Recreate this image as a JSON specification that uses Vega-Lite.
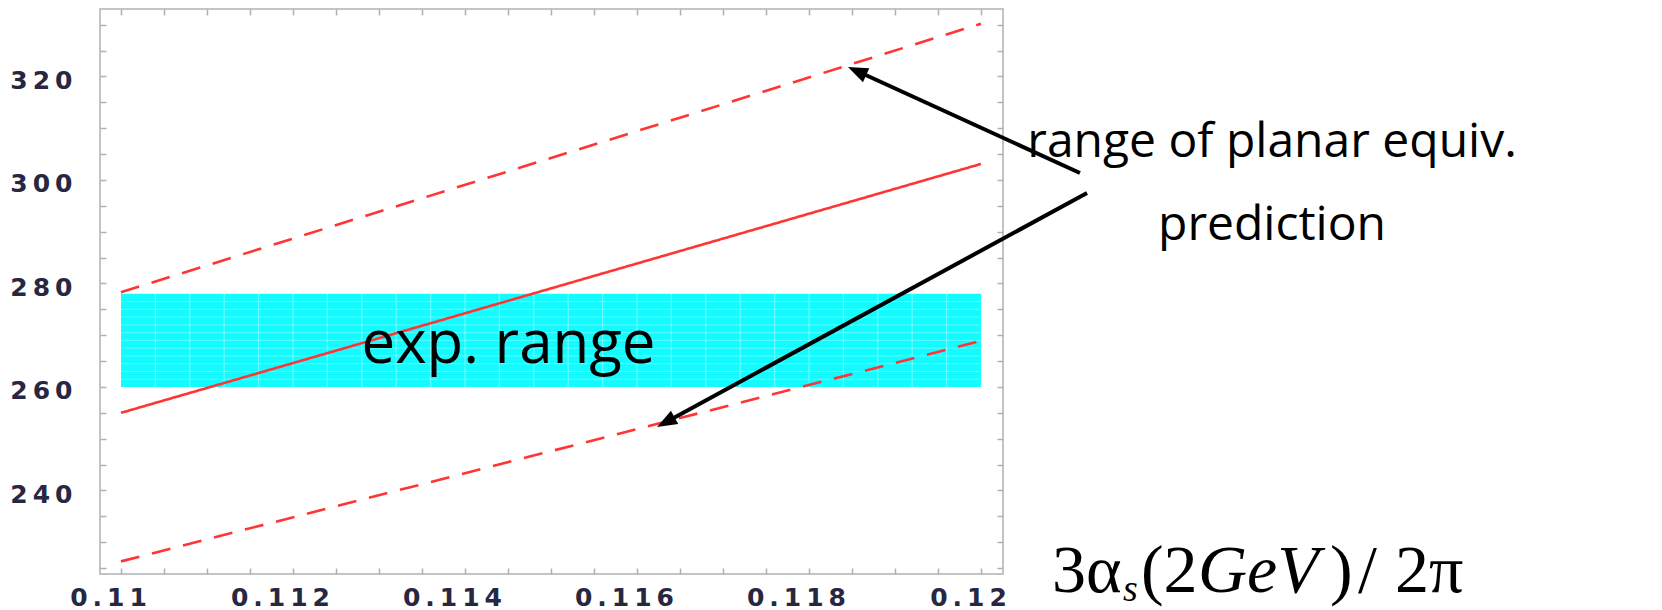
{
  "$schema": "https://vega.github.io/schema/vega-lite/v6.json",
  "width": 903,
  "height": 565,
  "autosize": {"type": "none"},
  "padding": {"left": 100, "top": 9, "right": 659, "bottom": 36},
  "background": "white",
  "config": {
    "view": {"stroke": "#c4c4c4", "strokeWidth": 2},
    "axis": {
      "domain": false,
      "grid": false,
      "title": null,
      "tickColor": "#b0b0b0",
      "tickWidth": 1.5,
      "tickSize": -6,
      "labelFont": "DejaVu Sans",
      "labelFontWeight": "bold",
      "labelFontSize": 25,
      "labelColor": "#272742",
      "labelOverlap": false,
      "labelBound": false,
      "labelFlush": false
    }
  },
  "datasets": {
    "band": [{"a_lo": 0.11, "a_hi": 0.12, "m_lo": 260, "m_hi": 278}],
    "bandCols": [
      {"a": 0.1104}, {"a": 0.1108}, {"a": 0.1112}, {"a": 0.1116}, {"a": 0.112},
      {"a": 0.1124}, {"a": 0.1128}, {"a": 0.1132}, {"a": 0.1136}, {"a": 0.114},
      {"a": 0.1144}, {"a": 0.1148}, {"a": 0.1152}, {"a": 0.1156}, {"a": 0.116},
      {"a": 0.1164}, {"a": 0.1168}, {"a": 0.1172}, {"a": 0.1176}, {"a": 0.118},
      {"a": 0.1184}, {"a": 0.1188}, {"a": 0.1192}, {"a": 0.1196}
    ],
    "bandRows": [
      {"m": 261.5}, {"m": 263}, {"m": 264.5}, {"m": 266}, {"m": 267.5}, {"m": 269},
      {"m": 270.5}, {"m": 272}, {"m": 273.5}, {"m": 275}, {"m": 276.5}
    ],
    "prediction": [
      {"series": "upper", "a": 0.11, "m": 278.3},
      {"series": "upper", "a": 0.12, "m": 330.2},
      {"series": "central", "a": 0.11, "m": 255.0},
      {"series": "central", "a": 0.12, "m": 303.1},
      {"series": "lower", "a": 0.11, "m": 226.3},
      {"series": "lower", "a": 0.12, "m": 268.9}
    ],
    "arrows": [
      {"a": 0.121151, "m": 301.35, "a2": 0.118538, "m2": 321.2},
      {"a": 0.121233, "m": 297.49, "a2": 0.116314, "m2": 253.0}
    ],
    "headUpper": [{"a": 0.118453, "m": 321.84}],
    "headLower": [{"a": 0.116233, "m": 252.27}],
    "bandLabel": [{"a": 0.114506, "m": 264.64, "text": "exp. range"}],
    "arrowLabel": [
      {"a": 0.123384, "m": 304.44, "text": "range of planar equiv."},
      {"a": 0.123384, "m": 288.41, "text": "prediction"}
    ],
    "titleUpright": [
      {"a": 0.120826, "m": 220.39, "text": "3α"},
      {"a": 0.12186, "m": 220.39, "text": "(2"},
      {"a": 0.124058, "m": 220.39, "text": ")"},
      {"a": 0.124384, "m": 220.39, "text": "/"},
      {"a": 0.124814, "m": 220.39, "text": "2π"}
    ],
    "titleItalic": [
      {"a": 0.122523, "m": 220.39, "text": "GeV"}
    ],
    "titleSub": [
      {"a": 0.121651, "m": 218.6, "text": "s"}
    ]
  },
  "layer": [
    {
      "data": {"name": "band"},
      "mark": {"type": "rect", "color": "#14fbff"},
      "encoding": {
        "x": {
          "field": "a_lo", "type": "quantitative",
          "scale": {"domain": [0.109756, 0.120256], "nice": false, "zero": false},
          "axis": {
            "orient": "bottom",
            "values": [0.11, 0.1105, 0.111, 0.1115, 0.112, 0.1125, 0.113, 0.1135, 0.114, 0.1145, 0.115, 0.1155, 0.116, 0.1165, 0.117, 0.1175, 0.118, 0.1185, 0.119, 0.1195, 0.12],
            "labelExpr": "abs(datum.value * 500 - round(datum.value * 500)) < 0.001 ? join(split(format(datum.value, '.3~f'), ''), '\u2009') : ''",
            "labelPadding": 17,
            "labelOffset": -13
          }
        },
        "x2": {"field": "a_hi"},
        "y": {
          "field": "m_lo", "type": "quantitative",
          "scale": {"domain": [223.86, 333.04], "nice": false, "zero": false},
          "axis": {
            "orient": "left",
            "values": [225, 230, 235, 240, 245, 250, 255, 260, 265, 270, 275, 280, 285, 290, 295, 300, 305, 310, 315, 320, 325, 330],
            "labelExpr": "datum.value % 20 == 0 ? join(split(datum.label, ''), '\u2009') : ''",
            "labelPadding": 34,
            "labelOffset": 4
          }
        },
        "y2": {"field": "m_hi"}
      }
    },
    {
      "data": {"name": "bandCols"},
      "mark": {"type": "rule", "color": "white", "strokeWidth": 1.2, "opacity": 0.35},
      "encoding": {
        "x": {"field": "a", "type": "quantitative", "scale": {"domain": [0.109756, 0.120256], "nice": false, "zero": false}, "axis": null},
        "y": {"datum": 260, "type": "quantitative", "scale": {"domain": [223.86, 333.04], "nice": false, "zero": false}, "axis": null},
        "y2": {"datum": 278}
      }
    },
    {
      "data": {"name": "bandRows"},
      "mark": {"type": "rule", "color": "white", "strokeWidth": 1, "opacity": 0.3},
      "encoding": {
        "y": {"field": "m", "type": "quantitative", "scale": {"domain": [223.86, 333.04], "nice": false, "zero": false}, "axis": null},
        "x": {"datum": 0.11, "type": "quantitative", "scale": {"domain": [0.109756, 0.120256], "nice": false, "zero": false}, "axis": null},
        "x2": {"datum": 0.12}
      }
    },
    {
      "data": {"name": "prediction"},
      "mark": {"type": "line", "color": "#ff3535", "strokeWidth": 2.6, "strokeCap": "butt"},
      "encoding": {
        "x": {
          "field": "a", "type": "quantitative",
          "scale": {"domain": [0.109756, 0.120256], "nice": false, "zero": false},
          "axis": {
            "orient": "top",
            "labels": false,
            "values": [0.11, 0.1105, 0.111, 0.1115, 0.112, 0.1125, 0.113, 0.1135, 0.114, 0.1145, 0.115, 0.1155, 0.116, 0.1165, 0.117, 0.1175, 0.118, 0.1185, 0.119, 0.1195, 0.12]
          }
        },
        "y": {
          "field": "m", "type": "quantitative",
          "scale": {"domain": [223.86, 333.04], "nice": false, "zero": false},
          "axis": {
            "orient": "right",
            "labels": false,
            "values": [225, 230, 235, 240, 245, 250, 255, 260, 265, 270, 275, 280, 285, 290, 295, 300, 305, 310, 315, 320, 325, 330]
          }
        },
        "strokeDash": {
          "field": "series", "type": "nominal",
          "scale": {"domain": ["central", "lower", "upper"], "range": [[1, 0], [19, 13], [19, 13]]},
          "legend": null
        }
      }
    },
    {
      "data": {"name": "arrows"},
      "mark": {"type": "rule", "color": "black", "strokeWidth": 4, "strokeCap": "butt"},
      "encoding": {
        "x": {"field": "a", "type": "quantitative", "scale": {"domain": [0.109756, 0.120256], "nice": false, "zero": false}, "axis": null},
        "y": {"field": "m", "type": "quantitative", "scale": {"domain": [223.86, 333.04], "nice": false, "zero": false}, "axis": null},
        "x2": {"field": "a2"},
        "y2": {"field": "m2"}
      }
    },
    {
      "data": {"name": "headUpper"},
      "mark": {"type": "point", "shape": "M0,0L0.38,1L-0.38,1Z", "size": 1600, "filled": true, "color": "black", "opacity": 1, "angle": 294.6},
      "encoding": {
        "x": {"field": "a", "type": "quantitative", "scale": {"domain": [0.109756, 0.120256], "nice": false, "zero": false}, "axis": null},
        "y": {"field": "m", "type": "quantitative", "scale": {"domain": [223.86, 333.04], "nice": false, "zero": false}, "axis": null}
      }
    },
    {
      "data": {"name": "headLower"},
      "mark": {"type": "point", "shape": "M0,0L0.38,1L-0.38,1Z", "size": 1600, "filled": true, "color": "black", "opacity": 1, "angle": 241.4},
      "encoding": {
        "x": {"field": "a", "type": "quantitative", "scale": {"domain": [0.109756, 0.120256], "nice": false, "zero": false}, "axis": null},
        "y": {"field": "m", "type": "quantitative", "scale": {"domain": [223.86, 333.04], "nice": false, "zero": false}, "axis": null}
      }
    },
    {
      "data": {"name": "bandLabel"},
      "mark": {"type": "text", "font": "Open Sans", "fontSize": 60, "color": "black", "align": "center", "baseline": "alphabetic"},
      "encoding": {
        "x": {"field": "a", "type": "quantitative", "scale": {"domain": [0.109756, 0.120256], "nice": false, "zero": false}, "axis": null},
        "y": {"field": "m", "type": "quantitative", "scale": {"domain": [223.86, 333.04], "nice": false, "zero": false}, "axis": null},
        "text": {"field": "text"}
      }
    },
    {
      "data": {"name": "arrowLabel"},
      "mark": {"type": "text", "font": "Open Sans", "fontSize": 48, "color": "black", "align": "center", "baseline": "alphabetic"},
      "encoding": {
        "x": {"field": "a", "type": "quantitative", "scale": {"domain": [0.109756, 0.120256], "nice": false, "zero": false}, "axis": null},
        "y": {"field": "m", "type": "quantitative", "scale": {"domain": [223.86, 333.04], "nice": false, "zero": false}, "axis": null},
        "text": {"field": "text"}
      }
    },
    {
      "data": {"name": "titleUpright"},
      "mark": {"type": "text", "font": "Liberation Serif", "fontSize": 68, "color": "black", "align": "left", "baseline": "alphabetic"},
      "encoding": {
        "x": {"field": "a", "type": "quantitative", "scale": {"domain": [0.109756, 0.120256], "nice": false, "zero": false}, "axis": null},
        "y": {"field": "m", "type": "quantitative", "scale": {"domain": [223.86, 333.04], "nice": false, "zero": false}, "axis": null},
        "text": {"field": "text"}
      }
    },
    {
      "data": {"name": "titleItalic"},
      "mark": {"type": "text", "font": "Liberation Serif", "fontStyle": "italic", "fontSize": 68, "color": "black", "align": "left", "baseline": "alphabetic"},
      "encoding": {
        "x": {"field": "a", "type": "quantitative", "scale": {"domain": [0.109756, 0.120256], "nice": false, "zero": false}, "axis": null},
        "y": {"field": "m", "type": "quantitative", "scale": {"domain": [223.86, 333.04], "nice": false, "zero": false}, "axis": null},
        "text": {"field": "text"}
      }
    },
    {
      "data": {"name": "titleSub"},
      "mark": {"type": "text", "font": "Liberation Serif", "fontStyle": "italic", "fontSize": 38, "color": "black", "align": "left", "baseline": "alphabetic"},
      "encoding": {
        "x": {"field": "a", "type": "quantitative", "scale": {"domain": [0.109756, 0.120256], "nice": false, "zero": false}, "axis": null},
        "y": {"field": "m", "type": "quantitative", "scale": {"domain": [223.86, 333.04], "nice": false, "zero": false}, "axis": null},
        "text": {"field": "text"}
      }
    }
  ],
  "resolve": {"axis": {"x": "independent", "y": "independent"}}
}
